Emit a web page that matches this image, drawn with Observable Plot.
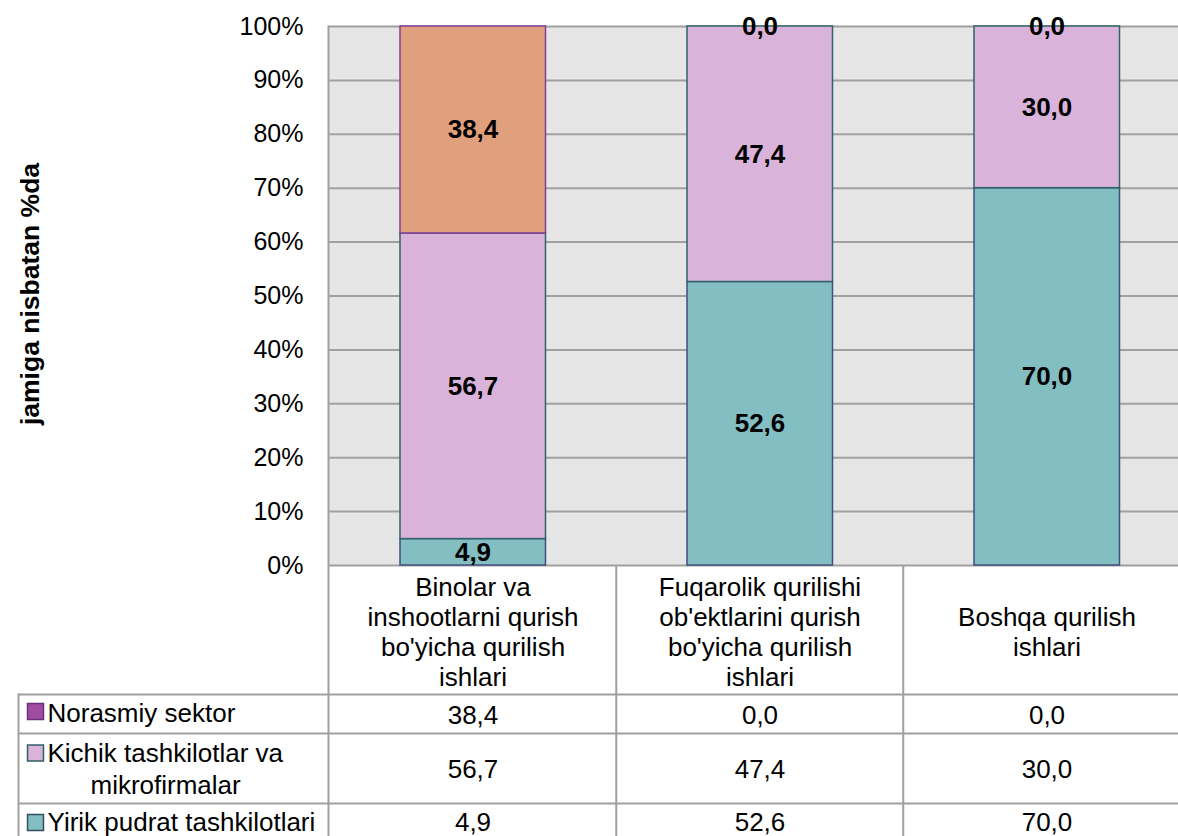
<!DOCTYPE html>
<html>
<head>
<meta charset="utf-8">
<script src="https://cdn.jsdelivr.net/npm/d3@7"></script>
<script src="https://cdn.jsdelivr.net/npm/@observablehq/plot@0.6"></script>
<style>
  html, body { margin: 0; padding: 0; background: white; overflow: hidden; }
  #chart { width: 1178px; height: 836px; overflow: hidden; }
</style>
</head>
<body>
<div id="chart"></div>
<script>
// ---- Data ----
const categories = [
  "Binolar va\ninshootlarni qurish\nbo'yicha qurilish\nishlari",
  "Fuqarolik qurilishi\nob'ektlarini qurish\nbo'yicha qurilish\nishlari",
  "Boshqa qurilish\nishlari"
];
const seriesNames = ["Yirik pudrat tashkilotlari", "Kichik tashkilotlar va mikrofirmalar", "Norasmiy sektor"];
const yirik = [4.9, 52.6, 70.0];
const kichik = [56.7, 47.4, 30.0];
const norasmiy = [38.4, 0.0, 0.0];
const yTicks = [0, 10, 20, 30, 40, 50, 60, 70, 80, 90, 100];
const yTitle = "jamiga nisbatan %da";

// ---- Styles ----
const barFill = {"Yirik pudrat tashkilotlari": "#83BEC3", "Kichik tashkilotlar va mikrofirmalar": "#DAB3DB", "Norasmiy sektor": "#E1A07D"};
const barStroke = {"Yirik pudrat tashkilotlari": "#3F4F7F", "Kichik tashkilotlar va mikrofirmalar": "#2F6468", "Norasmiy sektor": "#7F3F97"};
const swatchFill = {"Yirik pudrat tashkilotlari": "#83BEC3", "Kichik tashkilotlar va mikrofirmalar": "#DAB3DB", "Norasmiy sektor": "#A04CA2"};
const swatchStroke = {"Yirik pudrat tashkilotlari": "#2F4F5F", "Kichik tashkilotlar va mikrofirmalar": "#2F5F63", "Norasmiy sektor": "#6B2F7A"};
const fmt = v => v.toFixed(1).replace(".", ",");
const lineColor = "#A0A0A0";
const tableFont = 26;

const valuesBySeries = {
  "Yirik pudrat tashkilotlari": yirik,
  "Kichik tashkilotlar va mikrofirmalar": kichik,
  "Norasmiy sektor": norasmiy
};
const data = [];
categories.forEach((c, i) => {
  seriesNames.forEach(s => data.push({cat: c, series: s, value: valuesBySeries[s][i]}));
});

// table rows (top to bottom) with vertical offsets from plot bottom
const tableRows = [
  {series: "Norasmiy sektor", lines: ["Norasmiy sektor"], valDy: 150, lineDy: [148.5], swDy: 146},
  {series: "Kichik tashkilotlar va mikrofirmalar", lines: ["Kichik tashkilotlar va", "mikrofirmalar"], valDy: 204.5, lineDy: [188.5, 220.5], swDy: 187.5, lineDx: [-281, -238]},
  {series: "Yirik pudrat tashkilotlari", lines: ["Yirik pudrat tashkilotlari"], valDy: 257.5, lineDy: [257.5], swDy: 257}
];

const marks = [
  Plot.frame({fill: "#E6E6E6", stroke: null}),
  Plot.ruleY(yTicks, {stroke: lineColor, strokeWidth: 2}),
  Plot.frame({anchor: "left", stroke: lineColor, strokeWidth: 2, insetBottom: -271}),
  // table lines
  Plot.ruleY([0], {dy: 129, insetLeft: -310, stroke: lineColor, strokeWidth: 2}),
  Plot.ruleY([0], {dy: 168, insetLeft: -310, stroke: lineColor, strokeWidth: 2}),
  Plot.ruleY([0], {dy: 238, insetLeft: -310, stroke: lineColor, strokeWidth: 2}),
  Plot.ruleX(categories.slice(1), {x: d => d, dx: -143.75, insetTop: 539, insetBottom: -271, stroke: lineColor, strokeWidth: 2}),
  Plot.frame({anchor: "left", insetLeft: -310, insetTop: 668, insetBottom: -271, stroke: lineColor, strokeWidth: 2}),
  // bars
  Plot.barY(data.filter(d => d.value > 0), {
    x: "cat", y: "value",
    fill: d => barFill[d.series], stroke: d => barStroke[d.series], strokeWidth: 1.5,
    insetLeft: 71, insetRight: 70.5
  }),
  Plot.text(data, Plot.stackY({
    x: "cat", y: "value", text: d => fmt(d.value),
    fontWeight: "bold", fontSize: 26, fill: "black"
  })),
  // y axis
  Plot.axisY(yTicks, {tickFormat: d => d + "%", tickSize: 0, tickPadding: 25, fontSize: 25, label: null, fill: "black"}),
  Plot.text([yTitle], {text: d => d, frameAnchor: "left", textAnchor: "middle", lineAnchor: "middle", dx: -298, dy: -2, rotate: -90, fontWeight: "bold", fontSize: 26.5, fill: "black"}),
  // category header row
  Plot.text(categories, {x: d => d, text: d => d, frameAnchor: "bottom", dy: 66, lineAnchor: "middle", lineHeight: 1.16, fontSize: tableFont, fill: "black"})
];

tableRows.forEach(r => {
  const vals = valuesBySeries[r.series];
  marks.push(Plot.text(categories, {x: d => d, text: (d, i) => fmt(vals[i]), frameAnchor: "bottom", lineAnchor: "middle", dy: r.valDy, fontSize: tableFont, fill: "black"}));
  marks.push(Plot.dot([r.series], {frameAnchor: "bottom-left", dx: -293, dy: r.swDy, symbol: "square", r: 9, fill: swatchFill[r.series], stroke: swatchStroke[r.series], strokeWidth: 1.5}));
  r.lines.forEach((ln, j) => {
    marks.push(Plot.text([ln], {text: d => d, frameAnchor: "bottom-left", textAnchor: "start", lineAnchor: "middle", dx: r.lineDx ? r.lineDx[j] : -281, dy: r.lineDy[j], fontSize: tableFont, fill: "black"}));
  });
});

const chart = Plot.plot({
  width: 1178,
  height: 836,
  marginLeft: 328,
  marginRight: 0,
  marginTop: 26,
  marginBottom: 271,
  style: {fontFamily: "'Liberation Sans', Arial, sans-serif", fontSize: "25px", background: "white", color: "black"},
  x: {type: "band", domain: categories, range: [328, 1190.5], padding: 0, axis: null},
  y: {domain: [0, 100], axis: null},
  color: {type: "identity"},
  marks
});
document.getElementById("chart").appendChild(chart);
</script>
</body>
</html>
